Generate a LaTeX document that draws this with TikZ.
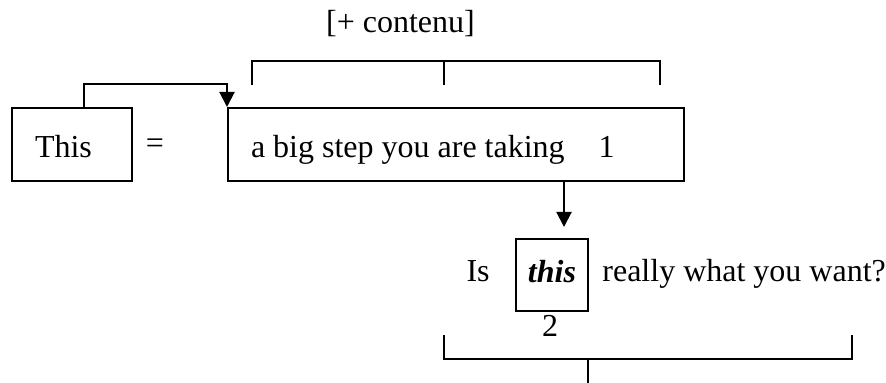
\documentclass[tikz,border=0pt]{standalone}
\usepackage{fontspec}
\setmainfont{Liberation Serif}
\usetikzlibrary{arrows.meta}

\tikzstyle{box}=[draw,line width=1pt,minimum height=36.5pt,inner xsep=11.5pt,align=flush left,text height=13.5pt,text depth=0pt]
\tikzstyle{square}=[draw,line width=1pt,minimum size=36pt,inner sep=0pt,text height=8pt,text depth=0pt]
\tikzstyle{word}=[inner sep=0pt,anchor=base]
\tikzstyle{link}=[draw,line width=1pt,-{Triangle[length=7.5pt,width=7.5pt]}]
\tikzstyle{bracket}=[draw,line width=1pt,-]
\newcommand{\pxunit}{0.5pt}

\begin{document}
\begin{tikzpicture}[x=\pxunit, y=-\pxunit, font=\fontsize{16}{19}\selectfont]
    \useasboundingbox (0,0) rectangle (886,383);
    % First we draw the boxes
    \node[box, text width=37pt] (this) at (72,144.5) {This};
    \node[box, text width=205pt] (big) at (456,144.5) {a big step you are taking\hspace{17pt}1};
    \node[square] (that) at (552,275) {\bfseries\itshape this};
    % Then the loose words
    \node at (155,146) {=};
    \node[word] (contenu) at (400.5,33) {[+ contenu]};
    \node[word, anchor=base east] (is) at (490,282) {Is};
    \node[word, anchor=base west] (want) at (602,282) {really what you want?};
    \node[word] (two) at (550,337) {2};
    % Ends of the brackets
    \foreach \pos/\name in {{(252,85)/ta}, {(444,85)/tb}, {(660,85)/tc}, {(444,335)/ba}, {(588,383)/bb}, {(852,335)/bc}}
        \path \pos coordinate (\name);
    \path[bracket] (ta) -- ++(0,-24) -| (tc);
    \path[bracket] (tb) -- ++(0,-24);
    \path[bracket] (ba) -- ++(0,24) -| (bc);
    \path[bracket] (bb) -- ++(0,-24);
    % Connect boxes with arrows
    \path[link] ([xshift=6pt]this.north) -- ++(0,-23) -| (big.north west);
    \path[link] ([xshift=54pt]big.south) -- ([xshift=6pt,yshift=5.5pt]that.north);
\end{tikzpicture}
\end{document}
